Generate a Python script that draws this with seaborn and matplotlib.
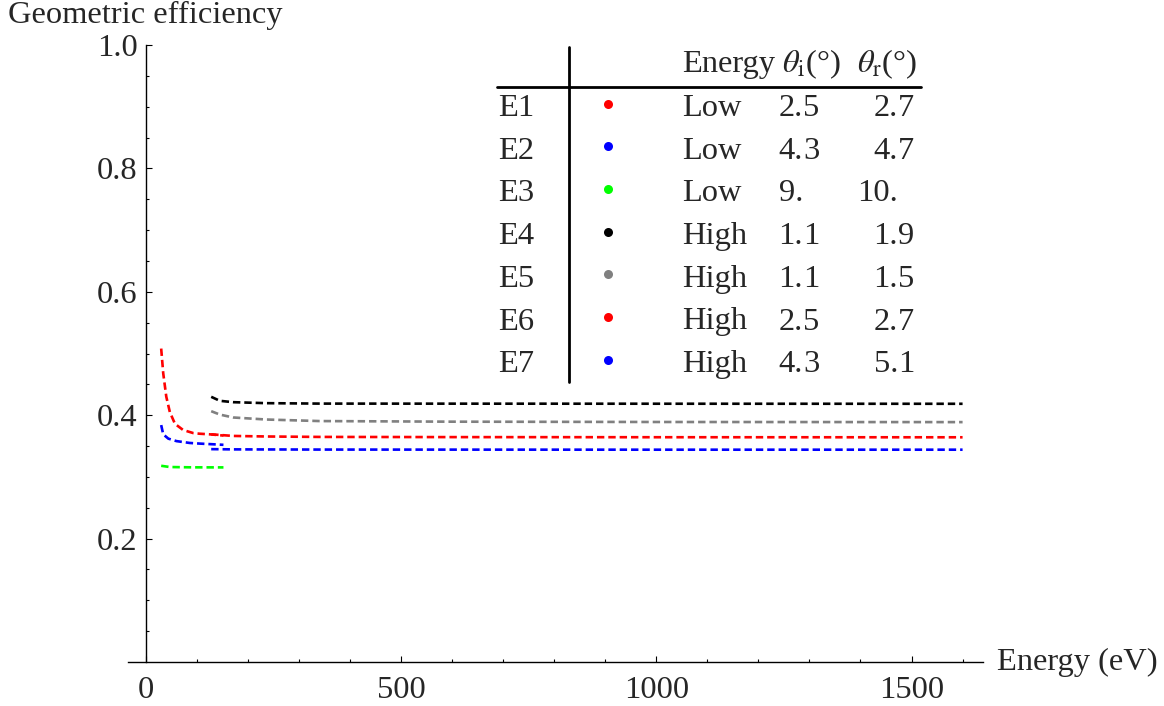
import numpy as np
import pandas as pd
import matplotlib
matplotlib.use("Agg")
import matplotlib.pyplot as plt
from matplotlib.lines import Line2D
import seaborn as sns

# ---------------- data ----------------
series_names = ["E1", "E2", "E3", "E4", "E5", "E6", "E7"]
series_colors = ["#ff0000", "#0000ff", "#00ff00", "#000000", "#808080", "#ff0000", "#0000ff"]
energy_class = ["Low", "Low", "Low", "High", "High", "High", "High"]
theta_i = ["2.5", "4.3", "9.", "1.1", "1.1", "2.5", "4.3"]
theta_r = ["2.7", "4.7", "10.", "1.9", "1.5", "2.7", "5.1"]

e1_x = [30, 34, 40, 47, 57, 73, 93, 105, 125, 152]
e1_y = [0.508, 0.468, 0.430, 0.405, 0.386, 0.376, 0.371, 0.370, 0.369, 0.367]
e2_x = [30, 34, 44, 60, 86, 105, 152]
e2_y = [0.384, 0.369, 0.362, 0.358, 0.355, 0.354, 0.352]
e3_x = [30, 47, 90, 152]
e3_y = [0.318, 0.316, 0.3155, 0.3154]
e4_x = [128, 145, 171, 236, 340, 600, 1000, 1600]
e4_y = [0.4298, 0.4233, 0.4211, 0.4195, 0.4188, 0.4187, 0.4186, 0.4185]
e5_x = [128, 145, 171, 236, 340, 600, 1000, 1600]
e5_y = [0.4065, 0.401, 0.3963, 0.393, 0.3905, 0.3895, 0.389, 0.3888]
e6_x = [128, 171, 236, 340, 600, 1000, 1600]
e6_y = [0.3690, 0.3664, 0.3655, 0.3648, 0.3645, 0.3643, 0.3642]
e7_x = [128, 171, 340, 600, 1000, 1600]
e7_y = [0.3450, 0.3446, 0.3443, 0.3442, 0.3441, 0.3441]

xs = [e1_x, e2_x, e3_x, e4_x, e5_x, e6_x, e7_x]
ys = [e1_y, e2_y, e3_y, e4_y, e5_y, e6_y, e7_y]

x_major = [0, 500, 1000, 1500]
y_major = [0.2, 0.4, 0.6, 0.8, 1.0]
y_major_labels = ["0.2", "0.4", "0.6", "0.8", "1.0"]

# ---------------- style ----------------
sns.set_style("ticks")
plt.rcParams["font.family"] = ["Liberation Serif", "DejaVu Serif"]
plt.rcParams["mathtext.fontset"] = "stix"

W, H = 1164, 706
fig = plt.figure(figsize=(W / 100, H / 100), dpi=100)
ax_left, ax_right, ax_bottom, ax_top = 128, 983, 662, 45
ax = fig.add_axes([ax_left / W, 1 - ax_bottom / H, (ax_right - ax_left) / W, (ax_bottom - ax_top) / H])

FS = 23.4

for name, x, y, c in zip(series_names, xs, ys, series_colors):
    df = pd.DataFrame({"Energy": x, "eff": y})
    sns.lineplot(data=df, x="Energy", y="eff", ax=ax, color=c, lw=1.9,
                 dashes=False, legend=False, sort=True)
for ln in ax.get_lines():
    ln.set_dashes((2.8, 1.5))

ax.set_xlim(-35, 1640)
ax.set_ylim(0, 1.0)
ax.spines["top"].set_visible(False)
ax.spines["right"].set_visible(False)
ax.spines["left"].set_position(("data", 0))
for s in ("left", "bottom"):
    ax.spines[s].set_linewidth(1.0)
    ax.spines[s].set_color("black")
ax.set_xticks(x_major)
ax.set_xticklabels([str(v) for v in x_major])
ax.set_xticks(np.arange(100, 1700, 100), minor=True)
ax.set_yticks(y_major)
ax.set_yticklabels(y_major_labels)
ax.set_yticks(np.arange(0.05, 1.0, 0.05), minor=True)
ax.tick_params(axis="both", which="major", direction="in", length=4.5, width=0.8,
               labelsize=FS, color="black")
ax.tick_params(axis="both", which="minor", direction="in", length=2.5, width=0.8, color="black")
ax.tick_params(axis="x", which="major", pad=10)
ax.tick_params(axis="y", which="major", pad=6)
ax.set_xlabel("")
ax.set_ylabel("")

fig.text(8 / W, 1 - 23 / H, "Geometric efficiency", fontsize=FS, ha="left", va="baseline")
fig.text(997 / W, 1 - 670 / H, "Energy (eV)", fontsize=FS, ha="left", va="baseline")

# ---------------- table legend ----------------
def fx(px):
    return px / W

def fy(py):
    return 1 - py / H

fig.add_artist(Line2D([fx(569), fx(569)], [fy(47), fy(382)], color="black", lw=2.0))
fig.add_artist(Line2D([fx(497), fx(921)], [fy(87), fy(87)], color="black", lw=2.0))

head_base = 72
fig.text(fx(682), fy(head_base), "Energy", fontsize=FS, ha="left", va="baseline")
fig.text(fx(782), fy(head_base), r"$\theta_{\mathrm{i}}$(°)", fontsize=FS, ha="left", va="baseline")
fig.text(fx(857), fy(head_base), r"$\theta_{\mathrm{r}}$(°)", fontsize=FS, ha="left", va="baseline")

base0, step = 116, 42.7
dec_i, dec_r = 803, 898
for k, (name, c, en, ti, tr) in enumerate(zip(series_names, series_colors, energy_class, theta_i, theta_r)):
    b = base0 + k * step
    fig.text(fx(498), fy(b), name, fontsize=FS, ha="left", va="baseline")
    fig.add_artist(Line2D([fx(608)], [fy(b - 12.5)], marker="o", markersize=6.5,
                          color=c, markeredgewidth=0, linestyle="none"))
    fig.text(fx(682), fy(b), en, fontsize=FS, ha="left", va="baseline")
    for val, xd in ((ti, dec_i), (tr, dec_r)):
        ip, fp = val.split(".")
        fig.text(fx(xd), fy(b), ip + ".", fontsize=FS, ha="right", va="baseline")
        if fp:
            fig.text(fx(xd), fy(b), fp, fontsize=FS, ha="left", va="baseline")

fig.savefig("out.png", dpi=100)
